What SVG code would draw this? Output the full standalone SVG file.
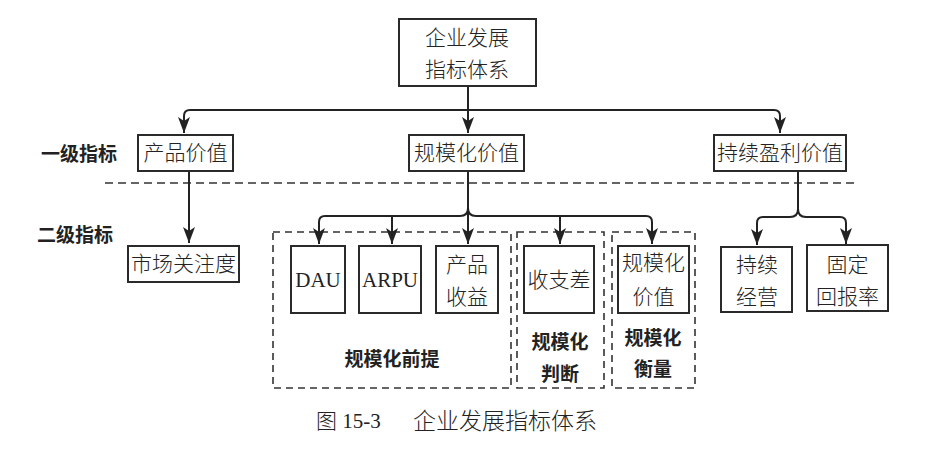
<svg xmlns="http://www.w3.org/2000/svg" width="925" height="451" viewBox="0 0 925 451">
<style>
.box{fill:#fff;stroke:#2a2a2a;stroke-width:2}
.grp{fill:none;stroke:#333;stroke-width:1.6;stroke-dasharray:7,5}
.t{font-family:"Liberation Serif","Noto Sans CJK SC",serif;font-size:21px;font-weight:300;fill:#222;text-anchor:middle;dominant-baseline:central}
.b{font-family:"Noto Sans CJK SC","Liberation Sans",sans-serif;font-size:19px;font-weight:700;fill:#222;text-anchor:middle;dominant-baseline:central}
.c{fill:none;stroke:#222;stroke-width:2}
.cap{font-family:"Liberation Serif","Noto Sans CJK SC",serif;font-size:21px;font-weight:300;fill:#222;dominant-baseline:central}
</style>
<defs>
<marker id="ar" viewBox="0 0 16 12" refX="16" refY="6" markerWidth="16" markerHeight="12" markerUnits="userSpaceOnUse" orient="auto">
<path d="M0,0 L16,6 L0,12 L4,6 z" fill="#222"/>
</marker>
</defs>

<!-- level labels and separator -->
<text class="b" x="79" y="152">一级指标</text>
<text class="b" x="75" y="233">二级指标</text>
<line x1="105" y1="183" x2="855" y2="183" stroke="#333" stroke-width="1.6" stroke-dasharray="8,5"/>

<!-- dashed groups -->
<g id="grp-premise">
<rect class="grp" x="273" y="232" width="238" height="156"/>
<text class="b" x="392" y="357">规模化前提</text>
</g>
<g id="grp-judge">
<rect class="grp" x="517" y="232" width="87" height="156"/>
<text class="b" x="560" y="340">规模化</text>
<text class="b" x="560" y="372">判断</text>
</g>
<g id="grp-measure">
<rect class="grp" x="612" y="232" width="83" height="156"/>
<text class="b" x="653" y="336">规模化</text>
<text class="b" x="653" y="367">衡量</text>
</g>

<g id="connectors">
<path class="c" d="M468,86 V133" marker-end="url(#ar)"/>
<path class="c" d="M468,110 H190 Q184,110 184,116 V133" marker-end="url(#ar)"/>
<path class="c" d="M468,110 H774 Q780,110 780,116 V133" marker-end="url(#ar)"/>
<path class="c" d="M189,171 V243" marker-end="url(#ar)"/>
<path class="c" d="M468,171 V244" marker-end="url(#ar)"/>
<path class="c" d="M468,208 Q468,216 460,216 H325 Q319,216 319,222 V244" marker-end="url(#ar)"/>
<path class="c" d="M392,216 V244" marker-end="url(#ar)"/>
<path class="c" d="M468,208 Q468,216 476,216 H646 Q652,216 652,222 V244" marker-end="url(#ar)"/>
<path class="c" d="M560,216 V244" marker-end="url(#ar)"/>
<path class="c" d="M798,171 V209 Q798,217 790,217 H763 Q757,217 757,223 V245" marker-end="url(#ar)"/>
<path class="c" d="M798,209 Q798,217 806,217 H840 Q846,217 846,223 V244" marker-end="url(#ar)"/>
</g>

<g id="root">
<rect class="box" x="399" y="19" width="137" height="67"/>
<text class="t" x="467" y="38">企业发展</text>
<text class="t" x="467" y="70">指标体系</text>
</g>
<g id="product-value">
<rect class="box" x="138" y="135" width="95" height="36"/>
<text class="t" x="185.5" y="153">产品价值</text>
</g>
<g id="scale-value">
<rect class="box" x="409" y="135" width="115" height="36"/>
<text class="t" x="466.5" y="153">规模化价值</text>
</g>
<g id="profit-value">
<rect class="box" x="714" y="135" width="132" height="36"/>
<text class="t" x="780" y="153">持续盈利价值</text>
</g>
<g id="market-attention">
<rect class="box" x="128" y="246" width="111" height="36"/>
<text class="t" x="183.5" y="264">市场关注度</text>
</g>
<g id="dau">
<rect class="box" x="291" y="246" width="54" height="67"/>
<text class="t" x="318" y="280">DAU</text>
</g>
<g id="arpu">
<rect class="box" x="359" y="246" width="62" height="67"/>
<text class="t" x="390" y="280">ARPU</text>
</g>
<g id="product-revenue">
<rect class="box" x="436" y="246" width="62" height="67"/>
<text class="t" x="467" y="265">产品</text>
<text class="t" x="467" y="297">收益</text>
</g>
<g id="balance">
<rect class="box" x="524" y="246" width="70" height="67"/>
<text class="t" x="559" y="280">收支差</text>
</g>
<g id="scale-value-2">
<rect class="box" x="618" y="246" width="71" height="67"/>
<text class="t" x="653.5" y="263">规模化</text>
<text class="t" x="653.5" y="297">价值</text>
</g>
<g id="sustain">
<rect class="box" x="721" y="247" width="71" height="65"/>
<text class="t" x="757" y="265">持续</text>
<text class="t" x="757" y="297">经营</text>
</g>
<g id="fixed-return">
<rect class="box" x="807" y="245" width="81" height="66"/>
<text class="t" x="847.5" y="265">固定</text>
<text class="t" x="847.5" y="297">回报率</text>
</g>

<text class="cap" x="316" y="421">图 15-3</text>
<text class="cap" x="413" y="421" style="font-size:23px">企业发展指标体系</text>
</svg>
